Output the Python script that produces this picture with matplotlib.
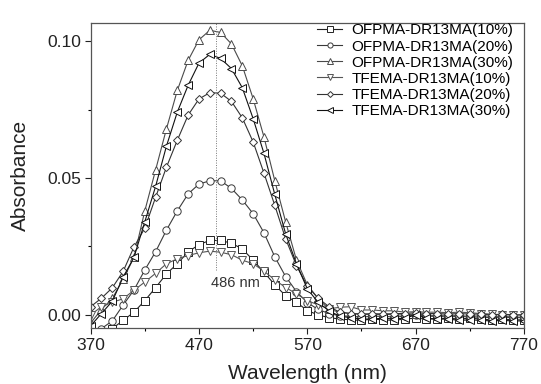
import numpy as np
import matplotlib
matplotlib.use("Agg")
import matplotlib.pyplot as plt

plt.rcParams['font.family'] = ['Liberation Sans', 'DejaVu Sans']

# wavelength grid (nm), one point every 10 nm
wavelength = list(range(370, 771, 10))

ofpma_10 = [-0.012, -0.009, -0.005, -0.002, 0.001, 0.0052, 0.010, 0.015, 0.0187, 0.023,
            0.0257, 0.0272, 0.0272, 0.0262, 0.0241, 0.020, 0.0156, 0.011, 0.007, 0.0046,
            0.0016, 0.0, -0.001, -0.0015, -0.0018, -0.002, -0.0015, -0.0018, -0.002, -0.0015,
            -0.0012, -0.0015, -0.0015, -0.0012, -0.0015, -0.0012, -0.0015, -0.0018, -0.0015, -0.0018, -0.0018]
ofpma_20 = [-0.008, -0.005, -0.0022, 0.0036, 0.0091, 0.0164, 0.0231, 0.031, 0.038, 0.0442,
            0.0478, 0.049, 0.049, 0.0462, 0.042, 0.037, 0.030, 0.0212, 0.014, 0.0085,
            0.0045, 0.002, 0.0005, -0.0003, -0.0005, -0.0008, -0.0005, -0.0005, -0.0008, -0.0005,
            0.0, -0.0005, -0.0005, -0.0008, -0.0005, -0.0008, -0.0008, -0.001, -0.0008, -0.001, -0.001]
ofpma_30 = [-0.003, 0.002, 0.006, 0.013, 0.021, 0.038, 0.053, 0.068, 0.082, 0.093,
            0.1005, 0.104, 0.1032, 0.099, 0.091, 0.079, 0.065, 0.049, 0.034, 0.020,
            0.011, 0.006, 0.002, 0.001, 0.0005, 0.0003, 0.0, 0.0003, 0.0, 0.0,
            0.0003, 0.0, -0.0003, 0.0, -0.0003, -0.0005, -0.0003, -0.0005, -0.0005, -0.0008, -0.0008]
tfema_10 = [0.0, 0.003, 0.0046, 0.0059, 0.009, 0.012, 0.0152, 0.0187, 0.0205, 0.0217,
            0.0227, 0.0233, 0.0229, 0.022, 0.020, 0.0187, 0.016, 0.0128, 0.010, 0.0077,
            0.0052, 0.0037, 0.0022, 0.0028, 0.003, 0.0018, 0.0018, 0.0015, 0.0015, 0.001,
            0.0012, 0.001, 0.001, 0.0008, 0.001, 0.0008, 0.0005, 0.0003, 0.0, 0.0, 0.0]
tfema_20 = [0.003, 0.0061, 0.0099, 0.0159, 0.0248, 0.0317, 0.043, 0.054, 0.0638, 0.073,
            0.0789, 0.0812, 0.081, 0.078, 0.072, 0.0632, 0.0518, 0.040, 0.0278, 0.018,
            0.0105, 0.0061, 0.003, 0.001, 0.0005, 0.0003, 0.0005, 0.0003, 0.0005, 0.0005,
            0.0008, 0.0005, 0.0005, 0.0003, 0.0005, 0.0003, 0.0003, 0.0, 0.0003, 0.0, 0.0]
tfema_30 = [-0.004, 0.0005, 0.005, 0.0138, 0.021, 0.034, 0.047, 0.0617, 0.0741, 0.0839,
            0.092, 0.0952, 0.0937, 0.090, 0.083, 0.0717, 0.059, 0.044, 0.0296, 0.0187,
            0.0095, 0.0046, 0.0015, -0.0005, -0.001, -0.0015, -0.0015, -0.0012, -0.0015, -0.0012,
            0.0, -0.0012, -0.0015, -0.0015, -0.002, -0.0018, -0.002, -0.0022, -0.002, -0.0022, -0.0022]

series = [
    ("OFPMA-DR13MA(10%)", ofpma_10, "s", "#222222"),
    ("OFPMA-DR13MA(20%)", ofpma_20, "o", "#3a3a3a"),
    ("OFPMA-DR13MA(30%)", ofpma_30, "^", "#4a4a4a"),
    ("TFEMA-DR13MA(10%)", tfema_10, "v", "#555555"),
    ("TFEMA-DR13MA(20%)", tfema_20, "D", "#333333"),
    ("TFEMA-DR13MA(30%)", tfema_30, "<", "#111111"),
]

fig = plt.figure(figsize=(5.41, 3.84), dpi=100)
ax = fig.add_axes([0.1675, 0.145, 0.8011, 0.794])

for label, values, marker, color in series:
    ms = 4.3 if marker == "D" else 5.3
    ax.plot(wavelength, values, color=color, lw=0.8, marker=marker, ms=ms,
            mfc="white", mec=color, mew=0.7, label=label)

# peak marker
ax.plot([486, 486], [0.0165, 0.107], color="#777777", lw=0.7, ls=(0, (1, 1.5)))
ax.text(481, 0.0115, "486 nm", fontsize=10.5, va="center", ha="left", color="#333333")

ax.set_xlim(370, 770)
ax.set_ylim(-0.0049, 0.1065)
ax.set_xticks([370, 470, 570, 670, 770])
ax.set_xticks([420, 520, 620, 720], minor=True)
ax.set_yticks([0.00, 0.05, 0.10])
ax.set_yticks([0.025, 0.075], minor=True)
ax.set_yticklabels(["0.00", "0.05", "0.10"])
ax.tick_params(axis="both", which="major", direction="out", length=4, width=0.8,
               labelsize=12.5, colors="#222222", pad=3, top=False, right=False)
ax.tick_params(axis="both", which="minor", direction="out", length=2.5, width=0.8,
               top=False, right=False)
for sp in ax.spines.values():
    sp.set_color("#555555")
    sp.set_linewidth(0.9)

ax.set_xlabel("Wavelength (nm)", fontsize=15, color="#222222", labelpad=8)
ax.set_ylabel("Absorbance", fontsize=15, color="#222222", labelpad=12)

leg = ax.legend(loc="upper right", bbox_to_anchor=(0.975, 1.0), frameon=False,
                fontsize=11, handlelength=1.65, handletextpad=0.6, labelspacing=0.14,
                markerscale=0.7, borderaxespad=0.0, borderpad=0.0)

fig.savefig("out.png", dpi=100)
